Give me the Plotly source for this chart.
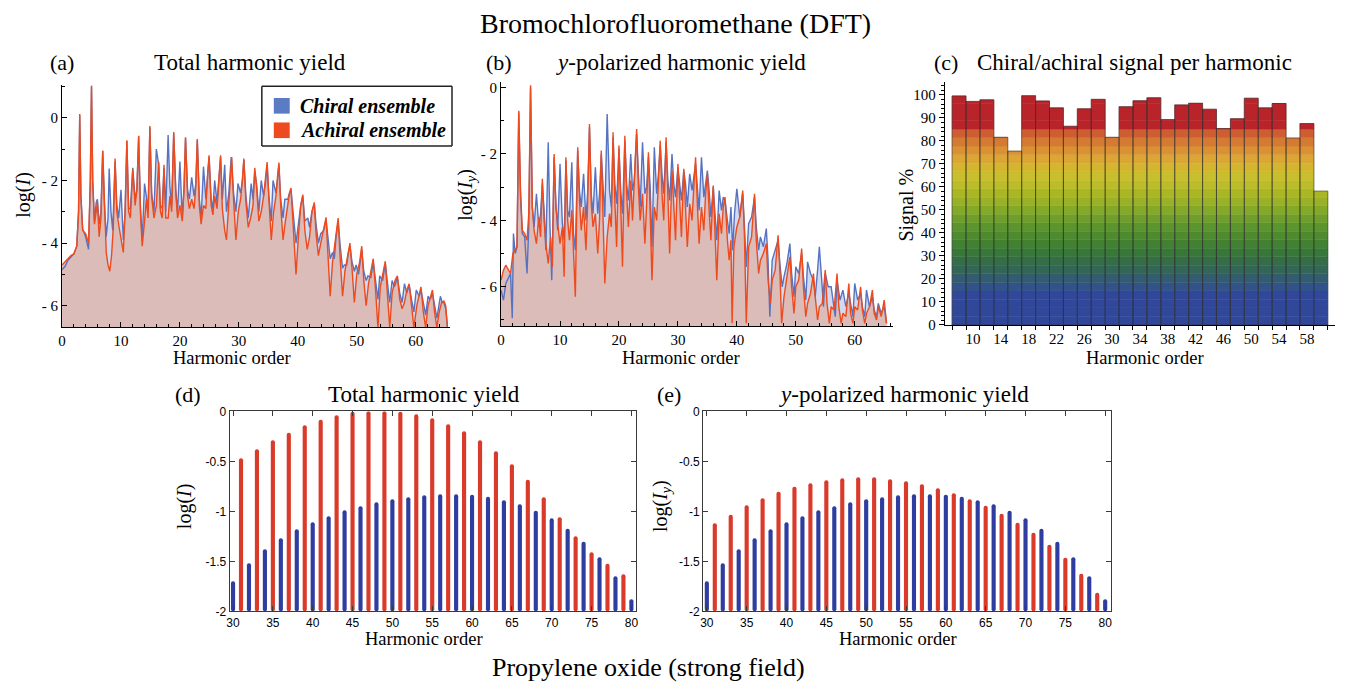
import plotly.graph_objects as go

W, H = 1348, 694
SERIF = "Liberation Serif, Times New Roman, serif"
SANS = "Liberation Sans, Arial, sans-serif"

# ---------------- DATA ----------------
# (a) Bromochlorofluoromethane, total harmonic yield: (harmonic order, log I)
a_achiral = [
    (0, -4.7), (0.5, -4.6), (1.0, -4.5), (1.5, -4.4), (2.0, -4.35), (2.5, -4.1), (2.8, -3.0), (3.0, 0.12),
    (3.2, -2.5), (3.5, -3.6), (4.0, -3.7), (4.5, -4.0), (4.8, -2.0), (5.0, 1.03), (5.2, -2.0), (5.5, -3.4),
    (5.8, -3.0), (6.0, -2.7), (6.3, -3.8), (6.6, -3.2), (6.9, -1.05), (7.2, -3.0), (7.5, -4.3), (7.8, -4.7),
    (8.1, -4.9), (8.4, -4.4), (8.7, -3.5), (9.0, -1.3), (9.3, -3.0), (9.6, -3.4), (10.0, -3.8), (10.4, -4.3),
    (10.7, -3.0), (11.0, -0.72), (11.3, -3.0), (11.6, -3.2), (12.0, -1.65), (12.4, -2.8), (12.7, -2.3),
    (13.0, -0.57), (13.3, -3.0), (13.6, -4.1), (14.0, -3.3), (14.3, -2.6), (14.6, -3.2), (14.9, -0.26),
    (15.2, -2.5), (15.6, -3.2), (16.0, -2.8), (16.4, -1.4), (16.7, -3.0), (17.0, -3.2), (17.3, -1.5),
    (17.6, -3.2), (18.0, -3.2), (18.3, -2.5), (18.6, -3.0), (18.95, -0.45), (19.3, -2.4), (19.6, -3.2),
    (20.0, -2.8), (20.4, -3.3), (20.7, -2.3), (20.95, -0.62), (21.3, -2.5), (21.6, -2.9), (22.0, -2.6),
    (22.4, -2.9), (22.7, -2.2), (22.95, -0.68), (23.3, -2.8), (23.6, -3.4), (24.0, -2.8), (24.4, -2.9),
    (24.7, -1.8), (24.95, -1.2), (25.3, -2.8), (25.6, -3.1), (25.9, -2.5), (26.3, -2.9), (26.6, -2.0),
    (26.9, -1.2), (27.2, -2.9), (27.6, -3.6), (27.9, -3.9), (28.3, -2.7), (28.6, -1.6), (28.8, -1.25),
    (29.1, -2.6), (29.5, -3.9), (29.9, -3.0), (30.3, -2.6), (30.6, -2.0), (30.85, -1.3), (31.2, -2.7),
    (31.6, -3.5), (32.0, -3.2), (32.4, -2.8), (32.7, -1.6), (33.0, -2.2), (33.4, -3.3), (33.8, -3.0),
    (34.2, -2.5), (34.5, -2.0), (34.8, -1.41), (35.1, -2.6), (35.5, -3.9), (35.9, -3.0), (36.3, -2.5),
    (36.6, -1.8), (36.8, -1.43), (37.1, -2.8), (37.5, -3.9), (37.9, -3.3), (38.3, -2.7), (38.6, -2.4),
    (38.85, -2.24), (39.2, -3.5), (39.7, -5.0), (40.1, -3.8), (40.5, -2.8), (40.85, -2.45), (41.2, -3.6),
    (41.6, -4.2), (42.0, -3.8), (42.4, -3.0), (42.8, -2.7), (43.1, -3.7), (43.5, -4.4), (43.9, -4.0),
    (44.4, -3.6), (44.8, -3.18), (45.1, -4.3), (45.5, -5.7), (45.9, -4.6), (46.5, -3.6), (46.85, -3.2),
    (47.2, -4.5), (47.6, -5.7), (48.0, -4.9), (48.5, -4.3), (48.85, -4.0), (49.2, -4.8), (49.6, -5.9),
    (50.0, -5.0), (50.5, -4.6), (50.85, -4.1), (51.2, -5.2), (51.6, -6.0), (52.0, -5.3), (52.5, -4.8),
    (52.8, -4.5), (53.2, -5.5), (53.6, -6.7), (54.0, -5.4), (54.5, -4.9), (54.85, -4.58), (55.2, -5.6),
    (55.6, -6.7), (56.0, -5.6), (56.5, -5.2), (56.9, -5.05), (57.3, -5.8), (57.7, -6.1), (58.1, -5.9),
    (58.5, -5.5), (58.9, -5.3), (59.3, -6.0), (59.7, -6.7), (60.2, -6.0), (60.6, -5.6), (60.9, -5.4),
    (61.3, -6.2), (61.7, -6.7), (62.1, -6.0), (62.5, -5.7), (62.85, -5.5), (63.2, -6.2), (63.6, -6.7),
    (64.0, -6.2), (64.4, -5.9), (64.8, -5.85), (65.1, -6.0), (65.4, -6.7),
]
a_chiral = [
    (0, -4.85), (0.5, -4.75), (1.0, -4.55), (1.5, -4.45), (2.0, -4.35), (2.5, -4.1), (2.8, -3.0), (3.0, 0.08),
    (3.2, -2.5), (3.5, -3.55), (4.0, -3.8), (4.5, -4.2), (4.8, -2.0), (5.0, 1.0), (5.2, -2.0), (5.5, -3.3),
    (5.8, -2.7), (6.0, -2.6), (6.3, -3.4), (6.6, -3.0), (6.9, -1.05), (7.2, -2.8), (7.5, -3.8), (7.8, -3.2),
    (8.0, -1.62), (8.3, -3.0), (8.6, -3.6), (9.0, -1.4), (9.3, -2.8), (9.6, -3.2), (10.0, -2.3), (10.4, -3.9),
    (10.7, -3.0), (11.0, -0.75), (11.3, -2.9), (11.6, -2.9), (12.0, -1.6), (12.4, -2.6), (12.7, -2.3),
    (13.0, -0.6), (13.3, -2.8), (13.6, -3.9), (14.0, -2.1), (14.3, -2.5), (14.6, -3.0), (14.9, -0.3),
    (15.2, -2.4), (15.6, -3.0), (16.0, -1.0), (16.4, -1.5), (16.7, -2.9), (17.0, -2.8), (17.3, -1.6),
    (17.6, -3.0), (18.0, -0.55), (18.3, -2.2), (18.6, -2.8), (18.95, -0.5), (19.3, -2.3), (19.6, -3.0),
    (20.0, -1.4), (20.4, -3.2), (20.7, -2.2), (20.95, -0.65), (21.3, -2.3), (21.6, -2.6), (22.0, -1.9),
    (22.4, -2.5), (22.7, -2.1), (22.95, -0.72), (23.3, -2.6), (23.6, -3.2), (24.0, -1.56), (24.4, -2.6),
    (24.7, -1.8), (24.95, -1.25), (25.3, -2.6), (25.6, -2.9), (25.9, -2.0), (26.3, -2.7), (26.6, -2.0),
    (26.9, -1.25), (27.2, -2.6), (27.6, -1.5), (27.9, -3.0), (28.3, -2.4), (28.7, -1.25), (29.1, -2.4),
    (29.5, -3.0), (29.85, -2.1), (30.3, -2.4), (30.6, -2.0), (30.85, -1.35), (31.2, -2.5), (31.6, -3.2),
    (32.1, -2.1), (32.4, -2.6), (32.7, -1.7), (33.0, -2.1), (33.4, -3.0), (33.8, -2.0), (34.2, -2.5),
    (34.5, -2.1), (34.8, -1.5), (35.1, -2.5), (35.5, -3.3), (35.8, -2.0), (36.3, -2.4), (36.6, -1.9),
    (36.8, -1.5), (37.1, -2.6), (37.5, -3.2), (37.8, -2.6), (38.3, -2.6), (38.6, -2.4), (38.85, -2.3),
    (39.2, -3.0), (39.7, -4.0), (40.1, -3.4), (40.5, -2.8), (40.85, -2.5), (41.2, -3.3), (41.7, -3.2),
    (42.0, -3.5), (42.4, -3.0), (42.8, -2.75), (43.1, -3.4), (43.5, -4.0), (43.9, -3.7), (44.4, -3.6),
    (44.8, -3.25), (45.1, -3.9), (45.5, -4.5), (45.9, -4.3), (46.2, -4.5), (46.5, -3.8), (46.85, -3.3),
    (47.2, -4.1), (47.6, -4.8), (47.9, -4.7), (48.3, -4.7), (48.6, -4.3), (48.85, -4.1), (49.2, -4.6),
    (49.6, -4.9), (49.9, -4.7), (50.3, -5.0), (50.6, -4.6), (50.85, -4.2), (51.2, -4.9), (51.6, -5.2),
    (51.9, -5.05), (52.4, -5.1), (52.8, -4.6), (53.2, -5.2), (53.6, -5.8), (53.9, -5.05), (54.4, -5.2),
    (54.85, -4.65), (55.2, -5.3), (55.6, -5.9), (56.0, -5.2), (56.4, -5.4), (56.9, -5.1), (57.3, -5.6),
    (57.7, -5.9), (58.1, -5.3), (58.5, -5.6), (58.9, -5.35), (59.3, -5.8), (59.7, -6.2), (60.1, -5.5),
    (60.6, -5.7), (60.9, -5.5), (61.3, -5.9), (61.7, -6.3), (62.1, -5.7), (62.5, -5.8), (62.85, -5.6),
    (63.2, -6.0), (63.6, -6.4), (64.2, -5.7), (64.5, -5.9), (64.8, -5.9), (65.1, -6.1), (65.4, -6.7),
]
# (b) y-polarized harmonic yield: (harmonic order, log I_y)
b_achiral = [
    (0, -5.8), (0.4, -5.5), (0.8, -5.35), (1.2, -5.5), (1.6, -5.6), (2.0, -5.0), (2.4, -4.9), (2.7, -4.8),
    (3.0, -0.7), (3.3, -3.1), (3.6, -4.3), (4.0, -4.4), (4.4, -4.6), (4.7, -3.8), (5.0, 0.07), (5.3, -3.6),
    (5.6, -4.3), (6.0, -4.7), (6.4, -3.9), (6.7, -4.5), (7.0, -2.75), (7.3, -4.0), (7.6, -4.7), (8.0, -5.3),
    (8.4, -4.5), (8.7, -5.4), (9.0, -2.0), (9.3, -3.6), (9.6, -4.1), (10.0, -4.7), (10.4, -4.2), (10.7, -5.7),
    (11.0, -2.1), (11.3, -4.0), (11.6, -4.6), (12.0, -3.7), (12.3, -5.0), (12.6, -6.3), (13.0, -1.8),
    (13.3, -3.4), (13.6, -4.3), (14.0, -3.6), (14.4, -4.9), (14.7, -3.4), (15.0, -1.1), (15.3, -3.5),
    (15.6, -4.2), (16.0, -3.8), (16.4, -5.0), (16.7, -4.0), (17.0, -1.9), (17.3, -3.6), (17.6, -5.9),
    (18.0, -4.5), (18.4, -3.8), (18.7, -4.2), (19.0, -1.35), (19.3, -3.4), (19.6, -4.8), (20.0, -1.75),
    (20.3, -3.8), (20.6, -5.4), (21.0, -1.45), (21.3, -3.2), (21.6, -4.2), (22.0, -2.8), (22.3, -4.0),
    (22.6, -3.0), (23.0, -1.25), (23.3, -3.0), (23.6, -4.0), (24.0, -3.2), (24.4, -4.7), (24.7, -3.5),
    (25.0, -1.95), (25.3, -3.8), (25.6, -5.8), (26.0, -3.6), (26.4, -4.0), (26.7, -2.8), (27.0, -1.6),
    (27.3, -3.2), (27.6, -4.0), (28.0, -1.5), (28.3, -3.5), (28.6, -5.0), (29.0, -2.5), (29.3, -3.8),
    (29.6, -4.6), (30.0, -2.3), (30.3, -3.7), (30.6, -4.5), (31.0, -2.45), (31.3, -3.6), (31.6, -4.8),
    (32.0, -3.5), (32.4, -4.0), (32.7, -3.0), (33.0, -2.1), (33.3, -3.5), (33.6, -4.7), (34.0, -3.6),
    (34.4, -4.3), (34.7, -3.2), (35.0, -2.6), (35.3, -3.7), (35.6, -4.6), (36.0, -2.95), (36.3, -4.5),
    (36.6, -5.8), (37.0, -3.8), (37.4, -4.4), (37.7, -3.6), (38.0, -3.3), (38.4, -4.6), (38.7, -5.2),
    (39.0, -4.6), (39.2, -7.1), (39.5, -4.8), (40.0, -4.2), (40.5, -3.9), (41.0, -3.1), (41.3, -4.5),
    (41.6, -7.1), (42.0, -4.8), (42.5, -4.5), (43.0, -3.2), (43.3, -4.6), (43.7, -5.6), (44.0, -5.2),
    (44.5, -5.0), (45.0, -4.7), (45.3, -5.8), (45.7, -6.5), (46.0, -5.8), (46.5, -5.5), (47.0, -4.45),
    (47.3, -5.5), (47.6, -7.1), (48.0, -6.3), (48.5, -5.7), (49.0, -5.1), (49.3, -6.0), (49.7, -6.8),
    (50.0, -6.0), (50.5, -5.8), (51.0, -4.85), (51.3, -6.0), (51.7, -6.9), (52.0, -6.5), (52.5, -6.2),
    (53.0, -5.6), (53.3, -6.3), (53.7, -7.0), (54.0, -6.6), (54.5, -6.5), (55.0, -5.5), (55.3, -6.5),
    (55.7, -7.1), (56.0, -6.6), (56.5, -6.7), (57.0, -5.6), (57.3, -6.6), (57.7, -7.1), (58.0, -6.8),
    (58.5, -6.9), (59.0, -5.9), (59.3, -6.8), (59.7, -7.1), (60.0, -6.6), (60.5, -6.7), (61.0, -6.0),
    (61.3, -6.7), (61.7, -7.1), (62.0, -6.8), (62.5, -6.6), (63.0, -6.1), (63.3, -6.8), (63.7, -7.0),
    (64.0, -6.6), (64.5, -6.9), (65.0, -6.4), (65.4, -7.1),
]
b_chiral = [
    (0, -6.1), (0.4, -6.4), (0.8, -5.9), (1.2, -5.75), (1.6, -5.6), (1.9, -6.95), (2.1, -4.4), (2.4, -5.0),
    (2.7, -4.8), (3.0, -0.75), (3.3, -3.3), (3.6, -4.4), (4.0, -4.5), (4.4, -5.6), (4.7, -4.2), (5.0, 0.0),
    (5.3, -3.6), (5.6, -4.2), (6.0, -3.2), (6.4, -4.2), (6.7, -3.8), (7.0, -2.9), (7.3, -3.7), (7.6, -4.9),
    (8.0, -1.65), (8.3, -4.2), (8.6, -5.8), (9.0, -2.1), (9.3, -3.5), (9.6, -4.3), (10.0, -2.3), (10.4, -4.1),
    (10.7, -4.6), (11.0, -2.2), (11.3, -3.7), (11.6, -3.9), (12.0, -2.25), (12.3, -4.4), (12.6, -4.9),
    (13.0, -1.9), (13.3, -3.1), (13.6, -3.6), (14.0, -2.6), (14.4, -4.0), (14.7, -3.1), (15.0, -1.2),
    (15.3, -3.2), (15.6, -3.8), (16.0, -2.4), (16.4, -3.8), (16.7, -3.2), (17.0, -2.0), (17.3, -3.0),
    (17.6, -3.9), (18.0, -0.8), (18.4, -3.1), (18.7, -3.6), (19.0, -1.5), (19.3, -2.9), (19.6, -3.5),
    (20.0, -1.85), (20.3, -3.1), (20.6, -3.8), (21.0, -1.6), (21.3, -2.9), (21.6, -3.4), (22.0, -2.0),
    (22.3, -3.1), (22.6, -2.8), (23.0, -1.4), (23.3, -2.6), (23.6, -3.6), (24.0, -1.65), (24.4, -3.2),
    (24.7, -3.0), (25.0, -2.1), (25.3, -3.0), (25.6, -4.8), (26.0, -1.8), (26.4, -3.2), (26.7, -2.6),
    (27.0, -1.75), (27.3, -2.6), (27.6, -3.2), (28.0, -1.65), (28.3, -2.8), (28.6, -3.4), (29.0, -2.0),
    (29.3, -2.9), (29.6, -3.3), (30.0, -2.4), (30.3, -3.0), (30.6, -3.4), (31.0, -2.5), (31.3, -2.9),
    (31.6, -3.6), (32.0, -2.6), (32.4, -3.1), (32.7, -2.7), (33.0, -2.3), (33.3, -3.0), (33.6, -3.7),
    (34.0, -2.1), (34.4, -3.3), (34.7, -2.9), (35.0, -2.5), (35.3, -3.1), (35.6, -3.9), (36.0, -3.0),
    (36.3, -3.8), (36.6, -4.6), (37.0, -3.1), (37.4, -3.7), (37.7, -3.3), (38.0, -3.4), (38.4, -4.0),
    (38.7, -4.4), (39.0, -3.6), (39.3, -4.9), (39.6, -3.8), (40.0, -3.05), (40.5, -3.9), (41.0, -3.2),
    (41.3, -4.2), (41.6, -5.4), (42.0, -4.1), (42.5, -3.9), (43.0, -3.3), (43.3, -4.2), (43.7, -4.9),
    (44.0, -4.5), (44.5, -4.8), (45.0, -4.25), (45.3, -5.2), (45.6, -6.9), (46.0, -5.2), (46.5, -4.9),
    (47.0, -4.6), (47.3, -5.3), (47.7, -6.0), (48.0, -5.7), (48.5, -5.3), (49.0, -4.7), (49.3, -5.6),
    (49.7, -6.3), (50.0, -5.4), (50.5, -5.6), (51.0, -5.0), (51.3, -5.7), (51.7, -6.4), (52.0, -5.25),
    (52.5, -5.6), (53.0, -5.8), (53.3, -6.3), (53.7, -5.5), (54.0, -4.8), (54.4, -5.8), (54.7, -6.6),
    (55.0, -5.6), (55.5, -6.0), (56.0, -6.0), (56.4, -6.5), (56.7, -6.9), (57.0, -5.8), (57.5, -6.4),
    (58.0, -6.1), (58.5, -6.6), (59.0, -6.2), (59.3, -6.5), (59.7, -6.9), (60.0, -5.9), (60.5, -6.4),
    (61.0, -6.2), (61.3, -6.6), (61.7, -6.9), (62.0, -6.1), (62.5, -6.6), (63.0, -6.3), (63.3, -6.7),
    (63.7, -6.9), (64.0, -6.5), (64.5, -6.8), (65.0, -6.6), (65.4, -7.1),
]

# (c) chiral/achiral signal per harmonic
c_orders = [8, 10, 12, 14, 16, 18, 20, 22, 24, 26, 28, 30, 32, 34, 36, 38, 40, 42, 44, 46, 48, 50, 52, 54, 56, 58, 60]
c_signal = [99.6, 97.2, 97.9, 81.6, 75.6, 99.7, 97.4, 94.4, 86.4, 94.0, 98.1, 81.6, 94.9, 97.5, 98.8, 89.3,
            95.7, 96.4, 93.8, 85.4, 89.7, 98.6, 94.4, 96.3, 81.3, 87.6, 58.2]
c_xticks = [10, 14, 18, 22, 26, 30, 34, 38, 42, 46, 50, 54, 58]

# (d), (e) propylene oxide (strong field)
de_orders = list(range(30, 81))
d_total = [-1.70, -0.47, -1.52, -0.38, -1.38, -0.29, -1.27, -0.215, -1.18, -0.14, -1.11, -0.085, -1.05, -0.04,
           -0.99, -0.005, -0.95, 0.0, -0.91, 0.0, -0.88, -0.005, -0.86, -0.03, -0.84, -0.07, -0.83, -0.13,
           -0.83, -0.20, -0.835, -0.29, -0.855, -0.40, -0.89, -0.53, -0.93, -0.685, -0.995, -0.86, -1.07,
           -1.06, -1.175, -1.25, -1.305, -1.41, -1.46, -1.525, -1.65, -1.63, -1.88]
e_ypol = [-1.70, -1.12, -1.52, -1.035, -1.38, -0.94, -1.27, -0.87, -1.18, -0.805, -1.11, -0.755, -1.05, -0.72,
          -0.99, -0.69, -0.95, -0.67, -0.91, -0.66, -0.88, -0.66, -0.86, -0.68, -0.84, -0.70, -0.83, -0.73,
          -0.83, -0.77, -0.835, -0.82, -0.855, -0.88, -0.89, -0.945, -0.93, -1.025, -0.995, -1.115, -1.07,
          -1.215, -1.175, -1.335, -1.305, -1.465, -1.46, -1.625, -1.65, -1.815, -1.88]

# ---------------- STYLE ----------------
CHIRAL_LINE = "#5673c2"
ACHIRAL_LINE = "#ef4a1c"
CHIRAL_FILL = "#d3daef"
ACHIRAL_FILL = "#dbbcb8"
RED_BAR = "#d93a2a"
BLUE_BAR = "#2e3d9f"
BAND_COLORS = ["#31489a", "#31489a", "#31489a", "#31489a", "#32528a", "#335c70", "#336654", "#346d48",
               "#38773a", "#428131", "#4e8a2f", "#5c942d", "#6e9e2b", "#84a928", "#98b126", "#aab725",
               "#bbbc27", "#c9be2b", "#d4b52f", "#dba633", "#d99134", "#d57a34", "#ce5d32", "#b8242a",
               "#b8242a", "#b8242a", "#b8242a"]


def px_x(p):
    return p / W


def px_y(p):
    return 1 - p / H


fig = go.Figure()


def add_spectrum(pts, floor, fillcolor, xa, ya):
    xs = [p[0] for p in pts]
    ys = [p[1] for p in pts]
    fig.add_trace(go.Scatter(x=xs + [xs[-1], xs[0]], y=ys + [floor, floor], fill="toself",
                             fillcolor=fillcolor, mode="lines", line=dict(width=0),
                             hoverinfo="skip", showlegend=False, xaxis=xa, yaxis=ya))


def add_line(pts, color, xa, ya):
    fig.add_trace(go.Scatter(x=[p[0] for p in pts], y=[p[1] for p in pts], mode="lines",
                             line=dict(color=color, width=1.4), hoverinfo="skip",
                             showlegend=False, xaxis=xa, yaxis=ya))


# (a)
add_spectrum(a_chiral, -20, CHIRAL_FILL, "x", "y")
add_spectrum(a_achiral, -20, ACHIRAL_FILL, "x", "y")
add_line(a_chiral, CHIRAL_LINE, "x", "y")
add_line(a_achiral, ACHIRAL_LINE, "x", "y")
# (b)
add_spectrum(b_chiral, -20, CHIRAL_FILL, "x2", "y2")
add_spectrum(b_achiral, -20, ACHIRAL_FILL, "x2", "y2")
add_line(b_chiral, CHIRAL_LINE, "x2", "y2")
add_line(b_achiral, ACHIRAL_LINE, "x2", "y2")

# (c) banded bars (each band only where the bar reaches it)
nb = len(BAND_COLORS)
for k in range(nb):
    lo = k * 100.0 / nb
    hi = (k + 1) * 100.0 / nb
    xs, hts = [], []
    for o, v in zip(c_orders, c_signal):
        if v > lo:
            xs.append(o)
            hts.append(min(v, hi) - lo)
    if not xs:
        continue
    fig.add_trace(go.Bar(x=xs, y=hts, base=lo, width=2,
                         marker=dict(color=BAND_COLORS[k], line=dict(color=BAND_COLORS[k], width=0.5)),
                         hoverinfo="skip", showlegend=False, xaxis="x3", yaxis="y3"))
fig.add_trace(go.Bar(x=c_orders, y=c_signal, base=0, width=2,
                     marker=dict(color="rgba(0,0,0,0)", line=dict(color="rgba(45,45,45,0.55)", width=1)),
                     hoverinfo="skip", showlegend=False, xaxis="x3", yaxis="y3"))

# (d), (e) bars from -2
bar_colors = [RED_BAR if o % 2 else BLUE_BAR for o in de_orders]
for vals, xa, ya in [(d_total, "x4", "y4"), (e_ypol, "x5", "y5")]:
    fig.add_trace(go.Bar(x=de_orders, y=[v + 2 for v in vals], base=-2, width=0.52,
                         marker=dict(color=bar_colors, line=dict(width=0), cornerradius=2),
                         hoverinfo="skip", showlegend=False, xaxis=xa, yaxis=ya))

serif_tick = dict(family=SERIF, size=15, color="black")
sans_tick = dict(family=SANS, size=12, color="black")


def spec_x(domain, rng, anchor):
    return dict(domain=domain, range=rng, anchor=anchor, showline=True, linecolor="black", linewidth=1,
                showgrid=False, zeroline=False, ticks="inside", ticklen=5, tickcolor="black",
                tickmode="linear", tick0=0, dtick=10, tickfont=serif_tick,
                minor=dict(ticks="inside", ticklen=3, tickcolor="black", tickmode="linear", tick0=0, dtick=2))


def spec_y(domain, rng, anchor):
    return dict(domain=domain, range=rng, anchor=anchor, showline=True, linecolor="black", linewidth=1,
                showgrid=False, zeroline=False, ticks="inside", ticklen=5, tickcolor="black",
                tickmode="array", tickvals=[-6, -4, -2, 0], ticktext=["- 6", "- 4", "- 2", "0"],
                tickfont=serif_tick,
                minor=dict(ticks="inside", ticklen=3, tickcolor="black", tickmode="array",
                           tickvals=[-7, -5, -3, -1, 1]))


def box_x(domain, rng, anchor):
    return dict(domain=domain, range=rng, anchor=anchor, showline=True, linecolor="#3a3a3a", linewidth=1.2,
                mirror="ticks", showgrid=False, zeroline=False, ticks="inside", ticklen=5, tickcolor="#3a3a3a",
                tickmode="linear", tick0=30, dtick=5, tickfont=sans_tick)


def box_y(domain, anchor):
    return dict(domain=domain, range=[-2, 0], anchor=anchor, showline=True, linecolor="#3a3a3a", linewidth=1.2,
                mirror="ticks", showgrid=False, zeroline=False, ticks="inside", ticklen=5, tickcolor="#3a3a3a",
                tickmode="array", tickvals=[-2, -1.5, -1, -0.5, 0], ticktext=["-2", "-1.5", "-1", "-0.5", "0"],
                tickfont=sans_tick)


layout = dict(
    width=W, height=H, margin=dict(l=0, r=0, t=0, b=0), paper_bgcolor="white", plot_bgcolor="white",
    barmode="overlay", showlegend=False,
    xaxis=spec_x([px_x(58.3), px_x(448.3)], [0, 65.88], "y"),
    yaxis=spec_y([px_y(327), px_y(80)], [-6.68, 1.04], "x"),
    xaxis2=spec_x([px_x(499.3), px_x(893)], [0, 66.5], "y2"),
    yaxis2=spec_y([px_y(326), px_y(76.7)], [-7.18, 0.165], "x2"),
    xaxis3=dict(domain=[px_x(945), px_x(1336.7)], range=[5.95, 62.0], anchor="y3", showline=True,
                linecolor="black", linewidth=1, showgrid=False, zeroline=False, ticks="outside", ticklen=0,
                tickmode="array", tickvals=c_xticks, tickfont=serif_tick,
                minor=dict(ticks="outside", ticklen=4, tickcolor="black", tickmode="linear", tick0=7, dtick=2)),
    yaxis3=dict(domain=[px_y(325), px_y(77)], range=[0, 105.5], anchor="x3", showline=True,
                linecolor="black", linewidth=1, showgrid=False, zeroline=False, ticks="outside", ticklen=5,
                tickcolor="black", tickmode="linear", tick0=0, dtick=10, tickfont=serif_tick,
                minor=dict(ticks="outside", ticklen=3, tickcolor="black", tickmode="linear", tick0=0, dtick=2)),
    xaxis4=box_x([px_x(226.7), px_x(635)], [29.58, 80.6], "y4"),
    yaxis4=box_y([px_y(617.7), px_y(413.3)], "x4"),
    xaxis5=box_x([px_x(702.3), px_x(1111.7)], [29.54, 80.7], "y5"),
    yaxis5=box_y([px_y(617.7), px_y(413.3)], "x5"),
)
fig.update_layout(**layout)

ann = []


def text(s, x, y, size, angle=0, anchor="center", font=SERIF):
    ann.append(dict(text=s, x=px_x(x), y=px_y(y), xref="paper", yref="paper", showarrow=False,
                    xanchor=anchor, yanchor="middle", textangle=angle,
                    font=dict(family=font, size=size, color="black")))


text("Bromochlorofluoromethane (DFT)", 674, 17, 28)
text("Propylene oxide (strong field)", 647, 675, 26)
text("(a)", 58, 57, 22)
text("Total harmonic yield", 247, 57, 23)
text("(b)", 497, 57, 22)
text("<i>y</i>-polarized harmonic yield", 680, 57, 23)
text("(c)", 946, 57, 22)
text("Chiral/achiral signal per harmonic", 1136, 57, 23)
text("(d)", 185, 396, 22)
text("Total harmonic yield", 422, 396, 23)
text("(e)", 668, 396, 22)
text("<i>y</i>-polarized harmonic yield", 904, 396, 23)

for xc in (229, 680, 1146):
    text("Harmonic order", xc, 359, 18.5)
text("Harmonic order", 422, 646, 18.5)
text("Harmonic order", 898, 646, 18.5)
text("log(<i>I</i>)", 20, 192, 20, angle=-90)
text("log(<i>I<sub>y</sub></i>)", 465, 192, 20, angle=-90)
text("Signal %", 907, 202, 20, angle=-90)
text("log(<i>I</i>)", 182, 510, 20, angle=-90)
text("log(<i>I<sub>y</sub></i>)", 661, 510, 20, angle=-90)

# legend for (a)
text("<b><i>Chiral ensemble</i></b>", 295, 101, 20, anchor="left")
text("<b><i>Achiral ensemble</i></b>", 295, 126, 20, anchor="left")

LEG_L, LEG_R, LEG_T, LEG_B = 259, 450, 81, 142
shapes = [
    dict(type="rect", xref="paper", yref="paper", x0=px_x(LEG_L), x1=px_x(LEG_R), y0=px_y(LEG_B),
         y1=px_y(LEG_T), line=dict(width=0), fillcolor="white", layer="below"),
    dict(type="rect", xref="paper", yref="paper", x0=px_x(271), x1=px_x(287), y0=px_y(109), y1=px_y(93),
         line=dict(width=0), fillcolor="#5b7bc4", layer="above"),
    dict(type="rect", xref="paper", yref="paper", x0=px_x(271), x1=px_x(287), y0=px_y(134), y1=px_y(118),
         line=dict(width=0), fillcolor="#ee4a1f", layer="above"),
]
for (x0, y0, x1, y1) in [(LEG_L, LEG_T, LEG_R, LEG_T), (LEG_L, LEG_B, LEG_R, LEG_B),
                         (LEG_L, LEG_T, LEG_L, LEG_B), (LEG_R, LEG_T, LEG_R, LEG_B)]:
    shapes.append(dict(type="line", xref="paper", yref="paper", x0=px_x(x0), y0=px_y(y0), x1=px_x(x1),
                       y1=px_y(y1), line=dict(color="#222222", width=1.5), layer="above"))
fig.update_layout(annotations=ann, shapes=shapes)

fig.write_html("out.html")
